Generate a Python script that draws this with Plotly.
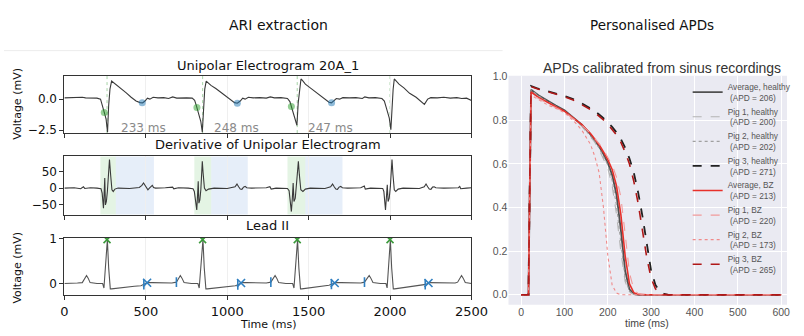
import numpy as np
import plotly.graph_objects as go

W, H = 804, 336

# ---------------- ARI extraction: signals (time in ms) ----------------
uni_t = [0, 40, 80, 110, 130, 170, 200, 222, 232, 240, 248, 256, 265, 272, 280, 290, 300, 320, 350, 380,
         410, 440, 465, 480, 495, 510, 525, 545, 575, 610, 640, 665, 690, 720, 750, 785, 800, 810, 818, 828,
         838, 847, 854, 862, 871, 880, 900, 930, 960, 990, 1020, 1045, 1062, 1080, 1095, 1110, 1130, 1160, 1200, 1240,
         1265, 1290, 1330, 1370, 1385, 1394, 1405, 1415, 1428, 1436, 1445, 1453, 1462, 1480, 1510, 1540, 1570, 1600, 1625, 1640,
         1655, 1670, 1690, 1710, 1750, 1790, 1830, 1845, 1870, 1910, 1950, 1965, 1975, 1985, 1995, 2005, 2012, 2019, 2026, 2035,
         2055, 2085, 2120, 2160, 2190, 2211, 2231, 2250, 2290, 2330, 2370, 2410, 2440, 2470, 2500]
uni_v = [0.1, 0.12, 0.08, 0.15, 0.1, 0.12, 0.08, 0.0, -0.4, -0.85, -1.2, -1.6, -2.65, -0.5, 0.8, 1.45, 1.35, 1.1, 0.85, 0.5,
         0.15, -0.15, -0.28, -0.3, -0.15, 0.08, 0.0, 0.15, 0.1, 0.12, 0.05, 0.18, 0.08, 0.12, 0.1, 0.08, -0.1, -0.5, -0.85, -1.3,
         -1.8, -2.65, -0.6, 0.8, 1.45, 1.35, 1.1, 0.85, 0.55, 0.2, -0.1, -0.28, -0.33, -0.15, 0.08, 0.0, 0.15, 0.1, 0.12, 0.08,
         0.18, 0.1, 0.12, 0.05, -0.2, -0.6, -0.95, -1.4, -2.1, -0.3, 1.0, 1.62, 1.5, 1.2, 0.9, 0.6, 0.25, -0.05, -0.25, -0.3,
         -0.15, 0.05, 0.0, 0.12, 0.1, 0.12, 0.05, 0.18, 0.1, 0.12, 0.05, -0.15, -0.6, -1.0, -1.5, -2.45, -0.5, 0.8, 1.62, 1.5,
         1.2, 0.9, 0.47, 0.15, -0.15, -0.42, 0.0, 0.12, 0.1, 0.15, 0.08, 0.12, 0.05, 0.08, -0.1]

der_t = [0, 60, 100, 117, 125, 160, 200, 225, 232, 236, 240, 244, 248, 252, 258, 264, 270, 277, 284, 292,
         300, 310, 330, 400, 460, 476, 486, 496, 505, 513, 522, 532, 540, 548, 560, 620, 665, 672, 700, 760,
         790, 798, 804, 809, 813, 818, 822, 826, 832, 838, 843, 847, 852, 860, 870, 885, 920, 1000, 1048, 1060,
         1070, 1080, 1090, 1100, 1110, 1120, 1150, 1240, 1262, 1270, 1300, 1370, 1380, 1387, 1394, 1400, 1405, 1410, 1418, 1425,
         1431, 1437, 1443, 1452, 1465, 1480, 1510, 1600, 1635, 1647, 1657, 1667, 1677, 1687, 1697, 1707, 1740, 1820, 1842, 1848,
         1880, 1955, 1962, 1968, 1972, 1978, 1983, 1988, 1995, 2002, 2007, 2012, 2018, 2026, 2035, 2050, 2080, 2180, 2210, 2221,
         2231, 2241, 2251, 2261, 2271, 2281, 2330, 2420, 2428, 2434, 2470, 2500]
der_v = [0, 1, -2, 4, -1, 1, 0, -2, -15, -45, -60, -20, 30, -50, -40, -10, 40, 85, 40, -5,
         -10, -3, 0, -1, 2, 8, 15, 6, -2, -5, 0, 6, 8, 2, 0, 1, 3, -2, 1, 0,
         -2, -10, -40, -55, -65, -20, 20, -45, -35, -5, 40, 80, 45, 0, -8, -3, 0, -1, 4, 12,
         4, -3, -4, 3, 5, 1, 0, 1, 4, -3, 0, -1, -8, -35, -70, -30, 15, -40, -30, 10,
         50, 80, 40, -5, -10, -3, 0, -1, 4, 12, 4, -3, -4, 3, 5, 1, 0, 1, 6, -3,
         0, -1, -10, -40, -65, -25, 10, -40, -30, 5, 50, 85, 40, -5, -10, -3, 0, -1, 4, 12,
         4, -3, -4, 3, 4, 1, 0, 1, 5, -2, 0, 1]

ecg_t = [0, 40, 80, 110, 125, 136, 146, 158, 200, 235, 243, 252, 260, 264, 272, 282, 290, 330, 380, 430,
         470, 490, 510, 540, 600, 660, 688, 700, 712, 722, 735, 780, 820, 828, 838, 847, 851, 859, 869, 878,
         920, 970, 1020, 1050, 1070, 1090, 1120, 1180, 1240, 1268, 1282, 1294, 1304, 1316, 1360, 1402, 1410, 1420, 1428, 1432,
         1440, 1450, 1458, 1500, 1550, 1600, 1625, 1645, 1665, 1700, 1760, 1820, 1843, 1858, 1872, 1882, 1895, 1940, 1975, 1982,
         1990, 1998, 2002, 2010, 2020, 2028, 2070, 2120, 2170, 2200, 2220, 2240, 2280, 2340, 2400, 2415, 2428, 2439, 2449, 2462,
         2500]
ecg_v = [0.0, 0.0, 0.01, 0.02, 0.12, 0.18, 0.12, 0.02, 0.0, 0.0, -0.1, 0.45, 0.98, 0.98, 0.35, -0.12, -0.12, -0.1, -0.08, -0.06,
         -0.05, -0.02, 0.02, 0.02, 0.02, 0.01, 0.03, 0.12, 0.18, 0.12, 0.02, 0.0, 0.0, -0.1, 0.45, 0.98, 0.98, 0.35, -0.12, -0.12,
         -0.1, -0.08, -0.06, -0.05, -0.02, 0.02, 0.02, 0.02, 0.01, 0.03, 0.12, 0.18, 0.12, 0.02, 0.0, 0.0, -0.1, 0.45, 0.98, 0.98,
         0.35, -0.12, -0.12, -0.1, -0.08, -0.06, -0.04, -0.01, 0.02, 0.02, 0.02, 0.01, 0.03, 0.12, 0.18, 0.12, 0.02, 0.0, 0.0, -0.1,
         0.45, 0.98, 0.98, 0.35, -0.12, -0.12, -0.1, -0.08, -0.06, -0.04, -0.02, 0.02, 0.02, 0.02, 0.01, 0.03, 0.12, 0.18, 0.12, 0.02,
         0.0]

# activation / repolarisation markers and ARI values
act_times = [245, 814, 1394]
ari_values = [233, 248, 247]
r_peak_times = [262, 849, 1430, 2000]
t_end_times = [508, 1085, 1660, 2236]
t_end_marks = [488, 1065, 1640, 2216]
p_onset_times = [688, 1268, 1843]
win_start = [221, 798, 1370]
win_split = [316, 902, 1480]
win_end = [550, 1126, 1708]

# ---------------- Personalised APDs ----------------
apd_t = [0, 17, 19, 21, 23, 40, 60, 80, 100, 120, 140, 160, 170, 180, 190, 200, 210, 220, 230, 240,
         250, 260, 270, 280, 290, 300, 310, 320, 330, 340, 360, 600]
avg_healthy = [0, 0, 0.35, 0.85, 0.94, 0.915, 0.89, 0.868, 0.846, 0.815, 0.78, 0.735, 0.71, 0.68, 0.645, 0.605, 0.55, 0.46, 0.3, 0.11,
               0.025, 0.004, 0, 0, 0, 0, 0, 0, 0, 0, 0, 0]
pig1_healthy = [0, 0, 0.35, 0.85, 0.935, 0.91, 0.885, 0.862, 0.84, 0.81, 0.772, 0.725, 0.7, 0.665, 0.625, 0.58, 0.5, 0.37, 0.2, 0.06,
                0.012, 0.002, 0, 0, 0, 0, 0, 0, 0, 0, 0, 0]
pig2_healthy = [0, 0, 0.35, 0.85, 0.94, 0.912, 0.887, 0.864, 0.842, 0.812, 0.776, 0.73, 0.704, 0.672, 0.635, 0.595, 0.525, 0.41, 0.24, 0.075,
                0.015, 0.002, 0, 0, 0, 0, 0, 0, 0, 0, 0, 0]
pig3_healthy = [0, 0, 0.36, 0.88, 0.957, 0.945, 0.935, 0.925, 0.912, 0.897, 0.878, 0.855, 0.842, 0.827, 0.81, 0.79, 0.77, 0.745, 0.715, 0.675,
                0.625, 0.56, 0.47, 0.36, 0.225, 0.11, 0.045, 0.015, 0.004, 0, 0, 0]
avg_bz = [0, 0, 0.35, 0.85, 0.93, 0.905, 0.882, 0.862, 0.842, 0.813, 0.78, 0.74, 0.715, 0.688, 0.655, 0.62, 0.575, 0.5, 0.37, 0.18,
          0.05, 0.01, 0.002, 0, 0, 0, 0, 0, 0, 0, 0, 0]
pig1_bz = [0, 0, 0.35, 0.85, 0.925, 0.9, 0.878, 0.858, 0.838, 0.81, 0.778, 0.74, 0.718, 0.693, 0.665, 0.632, 0.595, 0.54, 0.45, 0.28,
           0.1, 0.025, 0.005, 0, 0, 0, 0, 0, 0, 0, 0, 0]
pig2_bz = [0, 0, 0.34, 0.83, 0.915, 0.895, 0.872, 0.855, 0.835, 0.8, 0.755, 0.69, 0.635, 0.56, 0.4, 0.18, 0.045, 0.008, 0, 0,
           0, 0, 0, 0, 0, 0, 0, 0, 0, 0, 0, 0]
pig3_bz = [0, 0, 0.36, 0.88, 0.955, 0.943, 0.932, 0.922, 0.909, 0.893, 0.873, 0.85, 0.836, 0.82, 0.802, 0.782, 0.76, 0.733, 0.7, 0.655,
           0.6, 0.52, 0.42, 0.3, 0.17, 0.075, 0.028, 0.008, 0.002, 0, 0, 0]
apd_names = ["Average, healthy", "Pig 1, healthy", "Pig 2, healthy", "Pig 3, healthy",
             "Average, BZ", "Pig 1, BZ", "Pig 2, BZ", "Pig 3, BZ"]
apd_values = [206, 200, 202, 271, 213, 220, 173, 265]


def px(x):
    return x / W


def py(y):
    return 1 - y / H


LEFT_FONT = "DejaVu Sans"
RIGHT_FONT = "Liberation Sans, Arial, sans-serif"
TRACE = "#3a3a3a"
GREEN = "rgba(44,160,44,0.5)"
BLUE = "rgba(31,119,180,0.5)"

fig = go.Figure()

# panel 1: unipolar electrogram
fig.add_trace(go.Scatter(x=uni_t, y=uni_v, mode="lines", line=dict(color=TRACE, width=1.1),
                         xaxis="x", yaxis="y", showlegend=False, hoverinfo="skip"))
rep_times = [a + d for a, d in zip(act_times, ari_values)]
fig.add_trace(go.Scatter(x=act_times, y=np.interp(act_times, uni_t, uni_v), mode="markers",
                         marker=dict(color=GREEN, size=7), xaxis="x", yaxis="y", showlegend=False))
fig.add_trace(go.Scatter(x=rep_times, y=np.interp(rep_times, uni_t, uni_v), mode="markers",
                         marker=dict(color=BLUE, size=7), xaxis="x", yaxis="y", showlegend=False))

# panel 2: derivative
fig.add_trace(go.Scatter(x=der_t, y=der_v, mode="lines", line=dict(color=TRACE, width=1.1),
                         xaxis="x2", yaxis="y2", showlegend=False, hoverinfo="skip"))

# panel 3: lead II
fig.add_trace(go.Scatter(x=ecg_t, y=ecg_v, mode="lines", line=dict(color="#555555", width=1.1),
                         xaxis="x3", yaxis="y3", showlegend=False, hoverinfo="skip"))
fig.add_trace(go.Scatter(x=r_peak_times, y=np.interp(r_peak_times, ecg_t, ecg_v), mode="markers",
                         marker=dict(symbol="x-thin", color="#3c9a3c", size=7, line=dict(width=1.6, color="#3c9a3c")),
                         xaxis="x3", yaxis="y3", showlegend=False))
fig.add_trace(go.Scatter(x=t_end_times, y=np.interp(t_end_times, ecg_t, ecg_v), mode="markers",
                         marker=dict(symbol="x-thin", color="#2f7fc0", size=8, line=dict(width=1.6, color="#2f7fc0")),
                         xaxis="x3", yaxis="y3", showlegend=False))
ticks_t = t_end_marks + p_onset_times
fig.add_trace(go.Scatter(x=ticks_t, y=np.interp(ticks_t, ecg_t, ecg_v), mode="markers",
                         marker=dict(symbol="line-ns", color="#2f7fc0", size=7, line=dict(width=1.6, color="#2f7fc0")),
                         xaxis="x3", yaxis="y3", showlegend=False))

# right panel: APD curves
apd_series = [avg_healthy, pig1_healthy, pig2_healthy, pig3_healthy, avg_bz, pig1_bz, pig2_bz, pig3_bz]
apd_styles = [
    dict(color="#505050", width=1.8, dash="solid"),
    dict(color="#b4b4b4", width=1.1, dash="dash"),
    dict(color="#a0a0a0", width=1.1, dash="dot"),
    dict(color="#222222", width=1.8, dash="dash"),
    dict(color="#e8302a", width=1.6, dash="solid"),
    dict(color="#f19a9a", width=1.1, dash="dash"),
    dict(color="#f08a8a", width=1.1, dash="dot"),
    dict(color="#b01818", width=1.6, dash="dash"),
]
for i, (vals, name, apd, st) in enumerate(zip(apd_series, apd_names, apd_values, apd_styles)):
    fig.add_trace(go.Scatter(x=apd_t, y=vals, mode="lines", line=st, xaxis="x4", yaxis="y4",
                             name=f"{name}<br> (APD = {apd})", legendgroup=f"g{i}"))

# axes
xl = [px(62), px(480)]
left_x = dict(range=[0, 2500], tickvals=[0, 500, 1000, 1500, 2000, 2500], ticks="outside", ticklen=4,
              tickcolor="#333", showline=True, mirror=True, linecolor="#333", linewidth=1,
              showgrid=True, gridcolor="#efefef", zeroline=False,
              tickfont=dict(family=LEFT_FONT, size=13, color="#111"))
left_y = dict(ticks="outside", ticklen=4, tickcolor="#333", showline=True, mirror=True, linecolor="#333",
              linewidth=1, showgrid=False, zeroline=False, tickfont=dict(family=LEFT_FONT, size=12, color="#111"))

fig.update_layout(
    width=W, height=H, margin=dict(l=0, r=0, t=0, b=0),
    paper_bgcolor="white", plot_bgcolor="white",
    xaxis=dict(left_x, domain=xl, anchor="y", showticklabels=False),
    yaxis=dict(left_y, domain=[py(131), py(72)], anchor="x", range=[-2.73, 1.87],
               tickvals=[-2.5, 0], tickformat=".1f"),
    xaxis2=dict(left_x, domain=xl, anchor="y2", showticklabels=False),
    yaxis2=dict(left_y, domain=[py(215), py(155)], anchor="x2", range=[-79, 94.5], tickvals=[-50, 0, 50]),
    xaxis3=dict(left_x, domain=xl, anchor="y3"),
    yaxis3=dict(left_y, domain=[py(298), py(239)], anchor="x3", range=[-0.26, 1.02], tickvals=[0, 1]),
    xaxis4=dict(domain=[px(518), 1.0], anchor="y4", range=[-29.2, 613.5], tickvals=[0, 100, 200, 300, 400, 500, 600],
                showgrid=True, gridcolor="white", gridwidth=1, zeroline=False, showline=False, ticks="",
                tickfont=dict(family=RIGHT_FONT, size=10.5, color="#555")),
    yaxis4=dict(domain=[py(308), py(72)], anchor="x4", range=[-0.046, 1.004], tickvals=[0, 0.2, 0.4, 0.6, 0.8, 1.0],
                tickformat=".1f", showgrid=True, gridcolor="white", gridwidth=1, zeroline=False, showline=False,
                ticks="", tickfont=dict(family=RIGHT_FONT, size=10.5, color="#555")),
    legend=dict(x=px(702), y=py(71), xanchor="left", yanchor="top", bgcolor="rgba(0,0,0,0)",
                font=dict(family=RIGHT_FONT, size=8.3, color="#555"), tracegroupgap=0, itemwidth=30),
)

shapes = []
# seaborn-style background for the APD panel
shapes.append(dict(type="rect", xref="x4 domain", yref="y4 domain", x0=0, x1=1, y0=0, y1=1,
                   fillcolor="#eaeaf2", line=dict(width=0), layer="below"))
# activation windows on the derivative panel
for s, m, e in zip(win_start, win_split, win_end):
    shapes.append(dict(type="rect", xref="x2", yref="y2 domain", x0=s, x1=m, y0=0, y1=1,
                       fillcolor="rgba(120,200,120,0.2)", line=dict(width=0), layer="below"))
    shapes.append(dict(type="rect", xref="x2", yref="y2 domain", x0=m, x1=e, y0=0, y1=1,
                       fillcolor="rgba(130,170,225,0.2)", line=dict(width=0), layer="below"))
# R-peak reference lines on the electrogram
for t in r_peak_times:
    shapes.append(dict(type="line", xref="x", yref="y domain", x0=t, x1=t, y0=0, y1=1,
                       line=dict(color="rgba(60,160,60,0.45)", width=1, dash="dot"), layer="below"))
# thin frame rule along the top
shapes.append(dict(type="line", xref="paper", yref="paper", x0=0, x1=px(512), y0=py(46), y1=py(46),
                   line=dict(color="#ececec", width=1)))
fig.update_layout(shapes=shapes)

ann = []


def label(text, x, y, size, family=LEFT_FONT, color="#111", angle=0, xanchor="center"):
    ann.append(dict(text=text, x=px(x), y=py(y), xref="paper", yref="paper", showarrow=False,
                    xanchor=xanchor, yanchor="middle", textangle=angle,
                    font=dict(family=family, size=size, color=color)))


label("ARI extraction", 282, 20, 14)
label("Personalised APDs", 665, 20, 13.5)
label("Unipolar Electrogram 20A_1", 271, 61, 13)
label("Derivative of Unipolar Electrogram", 271, 143, 13)
label("Lead II", 271, 226, 13)
label("Voltage (mV)", 14, 101, 11, angle=-90)
label("Voltage (mV)", 14, 270, 11, angle=-90)
label("Time (ms)", 271, 328, 11)
label("APDs calibrated from sinus recordings", 676, 64, 14, family=RIGHT_FONT, color="#333")
label("time (ms)", 660, 327, 10.5, family=RIGHT_FONT, color="#444")

# ARI annotations in data coordinates
for a, d in zip(act_times, ari_values):
    ann.append(dict(text=f"{d} ms", x=a + 90, y=-2.3, xref="x", yref="y", showarrow=False,
                    xanchor="left", yanchor="middle", font=dict(family=LEFT_FONT, size=12, color="#8a8a8a")))

fig.update_layout(annotations=ann)
fig.write_html("out.html")
